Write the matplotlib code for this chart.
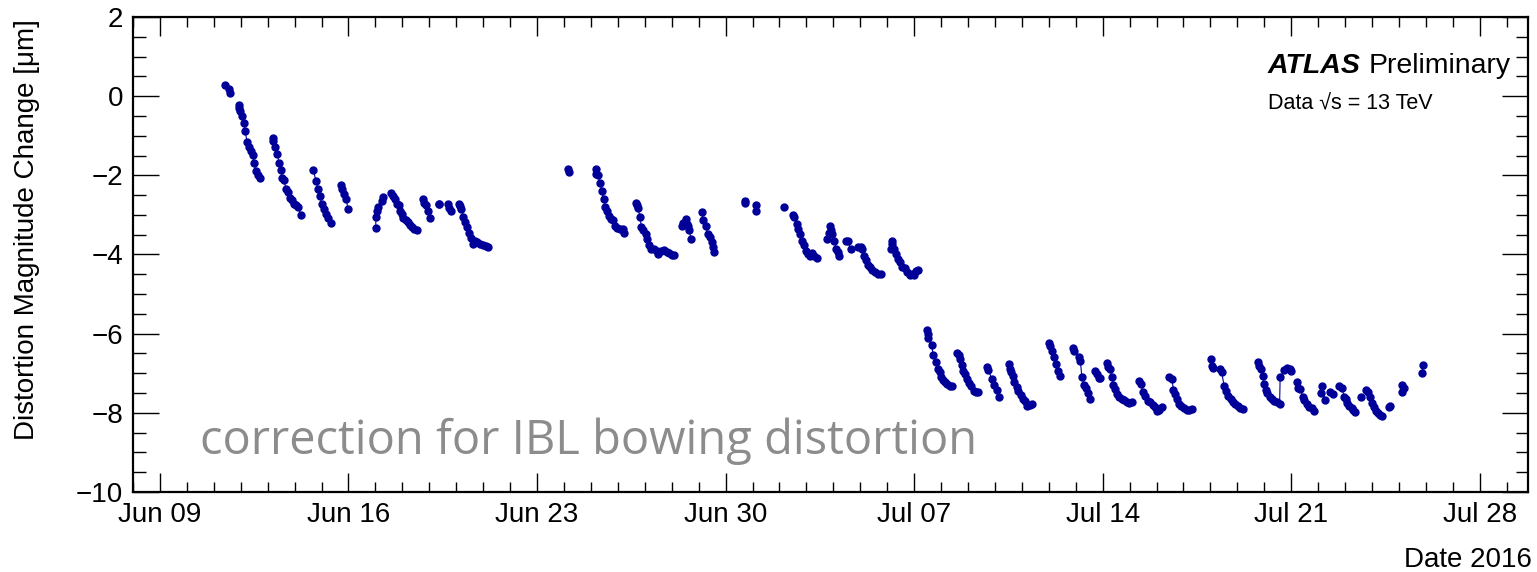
import numpy as np
import matplotlib
matplotlib.use("Agg")
import matplotlib.pyplot as plt
import matplotlib.dates as mdates
from matplotlib.ticker import MultipleLocator

plt.rcParams['font.family'] = ['Liberation Sans', 'DejaVu Sans']

# ---- data: time in days since 2016-06-09 00:00, one list per fill ----
fill_days = [
    [2.41, 2.57, 2.60],
    [2.93, 2.94, 2.97, 3.03, 3.11, 3.17, 3.23, 3.30, 3.37, 3.44, 3.50, 3.57, 3.63, 3.70],
    [4.19, 4.21, 4.27, 4.36, 4.42, 4.48, 4.55, 4.62, 4.67, 4.76, 4.82, 4.89, 4.96, 5.05, 5.13, 5.23],
    [5.70, 5.79, 5.86, 5.94, 6.01, 6.09, 6.16, 6.25, 6.36],
    [6.72, 6.77, 6.84, 6.91, 6.98],
    [8.01, 8.02, 8.05, 8.11, 8.26, 8.30],
    [8.59, 8.66, 8.72, 8.81, 8.87, 8.91, 8.97, 9.03, 9.12, 9.20, 9.28, 9.37, 9.44, 9.53],
    [9.78, 9.80, 9.87, 9.95, 10.03],
    [10.35, 10.37],
    [10.71, 10.73, 10.80],
    [11.11, 11.14, 11.18, 11.27, 11.33, 11.39, 11.48, 11.55, 11.62, 11.70, 11.78, 11.88, 12.00, 12.10, 12.17],
    [15.16, 15.18],
    [16.18, 16.20, 16.27, 16.34, 16.41, 16.48, 16.54, 16.59, 16.66, 16.75, 16.83, 16.90, 16.98, 17.08, 17.21, 17.24],
    [17.68, 17.71, 17.74, 17.83, 17.87, 17.95, 18.04, 18.10, 18.16, 18.24, 18.34, 18.44, 18.50, 18.59, 18.71, 18.81, 18.91, 19.00, 19.08],
    [19.37, 19.43, 19.53, 19.56, 19.61, 19.66, 19.71],
    [20.11, 20.17, 20.26, 20.34, 20.42, 20.49, 20.52, 20.58],
    [21.71, 21.73],
    [22.13, 22.14],
    [23.18],
    [23.49, 23.54, 23.64, 23.70, 23.77, 23.85, 23.91, 23.99, 24.05, 24.14, 24.20, 24.29, 24.39],
    [24.76, 24.85, 24.88, 24.91, 24.97, 25.04, 25.10, 25.17, 25.22],
    [25.49, 25.55, 25.64],
    [25.93, 26.03, 26.08, 26.15, 26.21, 26.28, 26.36, 26.45, 26.55, 26.65, 26.76],
    [27.13, 27.17, 27.19, 27.25, 27.32, 27.39, 27.48, 27.56, 27.67, 27.75, 27.83, 27.92, 28.00, 28.08, 28.14],
    [28.49, 28.51, 28.53, 28.65, 28.71, 28.81, 28.88, 28.96, 29.00, 29.06, 29.15, 29.24, 29.33, 29.40],
    [29.61, 29.66, 29.70, 29.77, 29.83, 29.89, 29.96, 30.04, 30.11, 30.23, 30.30, 30.39],
    [30.72, 30.76, 30.88, 30.97, 31.07, 31.16],
    [31.53, 31.57, 31.59, 31.67, 31.72, 31.81, 31.87, 31.96, 32.03, 32.12, 32.20, 32.30, 32.37],
    [33.02, 33.05, 33.11, 33.20, 33.26, 33.34, 33.42],
    [33.89, 33.94, 34.13, 34.17, 34.23, 34.31, 34.39, 34.47, 34.54],
    [34.72, 34.79, 34.87, 34.91],
    [35.16, 35.21, 35.27, 35.34, 35.40, 35.46, 35.55, 35.61, 35.71, 35.79, 35.89, 35.99, 36.08],
    [36.35, 36.42, 36.49, 36.58, 36.70, 36.76, 36.86, 36.95, 37.03, 37.11, 37.20],
    [37.48, 37.57, 37.63, 37.69, 37.75, 37.84, 37.92, 38.03, 38.13, 38.22, 38.31],
    [39.02, 39.05, 39.11],
    [39.36, 39.42, 39.51, 39.58, 39.67, 39.76, 39.83, 39.92, 40.01, 40.11, 40.21],
    [40.75, 40.79, 40.88, 40.94, 41.00, 41.06, 41.12, 41.20, 41.28, 41.37, 41.47, 41.57, 41.59, 41.75, 41.85, 41.94, 41.98],
    [42.21, 42.24, 42.33, 42.43, 42.49, 42.58, 42.66, 42.76, 42.83],
    [43.11, 43.14, 43.26],
    [43.45, 43.55],
    [43.79, 43.88, 43.97, 44.04, 44.09, 44.16, 44.25, 44.31, 44.38],
    [44.60],
    [44.79, 44.85, 44.94, 45.00, 45.06, 45.15, 45.22, 45.31, 45.37],
    [45.64, 45.65],
    [46.10, 46.12, 46.19],
    [46.87, 46.89],
]

fill_values = [
    [0.27, 0.17, 0.08],
    [-0.23, -0.31, -0.38, -0.50, -0.67, -0.89, -1.15, -1.28, -1.39, -1.49, -1.70, -1.90, -2.00, -2.08],
    [-1.05, -1.14, -1.28, -1.47, -1.69, -1.86, -2.07, -2.13, -2.34, -2.43, -2.57, -2.63, -2.72, -2.76, -2.80, -3.00],
    [-1.86, -2.15, -2.34, -2.52, -2.73, -2.85, -2.98, -3.09, -3.21],
    [-2.25, -2.34, -2.46, -2.59, -2.84],
    [-3.33, -3.06, -2.89, -2.80, -2.65, -2.55],
    [-2.45, -2.52, -2.59, -2.72, -2.76, -2.89, -2.97, -3.08, -3.12, -3.18, -3.25, -3.31, -3.35, -3.37],
    [-2.61, -2.69, -2.76, -2.91, -3.08],
    [-2.73, -2.73],
    [-2.73, -2.83, -2.91],
    [-2.72, -2.77, -2.84, -3.05, -3.18, -3.31, -3.45, -3.58, -3.73, -3.67, -3.69, -3.73, -3.75, -3.79, -3.82],
    [-1.83, -1.91],
    [-1.85, -1.96, -2.00, -2.19, -2.40, -2.61, -2.80, -2.91, -3.04, -3.10, -3.14, -3.27, -3.33, -3.35, -3.35, -3.45],
    [-2.69, -2.76, -2.83, -3.05, -3.31, -3.39, -3.48, -3.62, -3.77, -3.86, -3.87, -3.90, -3.98, -3.90, -3.88, -3.94, -3.96, -4.01, -4.01],
    [-3.27, -3.20, -3.11, -3.22, -3.28, -3.39, -3.62],
    [-2.93, -3.12, -3.28, -3.48, -3.56, -3.69, -3.81, -3.94],
    [-2.64, -2.70],
    [-2.74, -2.89],
    [-2.80],
    [-2.99, -3.05, -3.22, -3.35, -3.48, -3.65, -3.77, -3.90, -3.98, -4.04, -3.96, -4.03, -4.08],
    [-3.60, -3.45, -3.29, -3.39, -3.48, -3.66, -3.86, -3.94, -4.03],
    [-3.67, -3.67, -3.86],
    [-3.81, -3.81, -3.87, -4.03, -4.13, -4.26, -4.32, -4.38, -4.45, -4.49, -4.49],
    [-3.86, -3.65, -3.73, -3.87, -3.98, -4.11, -4.19, -4.32, -4.34, -4.45, -4.53, -4.49, -4.53, -4.41, -4.38],
    [-5.92, -6.01, -6.12, -6.29, -6.54, -6.72, -6.89, -6.96, -7.10, -7.16, -7.23, -7.27, -7.32, -7.33],
    [-6.49, -6.54, -6.64, -6.79, -6.94, -7.02, -7.15, -7.25, -7.33, -7.44, -7.48, -7.47],
    [-6.85, -6.91, -7.15, -7.30, -7.43, -7.59],
    [-6.77, -6.89, -6.96, -7.06, -7.22, -7.36, -7.44, -7.55, -7.64, -7.70, -7.82, -7.81, -7.78],
    [-6.24, -6.32, -6.43, -6.60, -6.77, -6.94, -7.08],
    [-6.37, -6.43, -6.60, -6.68, -7.10, -7.30, -7.38, -7.50, -7.64],
    [-6.94, -7.02, -7.12, -7.13],
    [-6.74, -6.85, -6.89, -7.10, -7.30, -7.40, -7.53, -7.61, -7.65, -7.68, -7.72, -7.74, -7.72],
    [-7.19, -7.27, -7.48, -7.57, -7.70, -7.72, -7.81, -7.86, -7.95, -7.92, -7.86],
    [-7.10, -7.15, -7.42, -7.53, -7.65, -7.78, -7.84, -7.89, -7.92, -7.92, -7.91],
    [-6.64, -6.81, -6.88],
    [-6.89, -6.98, -7.32, -7.44, -7.57, -7.65, -7.72, -7.78, -7.84, -7.89, -7.91],
    [-6.72, -6.81, -6.89, -7.08, -7.27, -7.42, -7.50, -7.59, -7.65, -7.70, -7.72, -7.78, -7.10, -6.91, -6.88, -6.89, -6.94],
    [-7.23, -7.38, -7.40, -7.59, -7.68, -7.78, -7.85, -7.89, -7.95],
    [-7.50, -7.32, -7.67],
    [-7.47, -7.53],
    [-7.32, -7.38, -7.59, -7.64, -7.76, -7.82, -7.88, -7.92, -7.97],
    [-7.61],
    [-7.42, -7.48, -7.61, -7.74, -7.86, -7.95, -8.01, -8.06, -8.09],
    [-7.86, -7.83],
    [-7.48, -7.30, -7.38],
    [-6.99, -6.79],
]

start_date = np.datetime64('2016-06-09T00:00')
x_range = ('2016-06-08T00:00', '2016-07-29T19:00')
y_range = (-10, 2)
ylabel = 'Distortion Magnitude Change [\u03bcm]'
xlabel = 'Date 2016'
overlay = 'correction for IBL bowing distortion'

W, H = 1537, 572
fig = plt.figure(figsize=(W / 100, H / 100), dpi=100)
ax = fig.add_axes([133 / W, 1 - 492 / H, (1528 - 133) / W, (492 - 17) / H])

col = '#000099'
for d, v in zip(fill_days, fill_values):
    t = start_date + (np.array(d) * 24 * 60).astype('timedelta64[m]')
    ax.plot(t, v, '-o', color=col, lw=0.8, ms=5.0, mec=col, mfc=col)

ax.set_xlim(np.datetime64(x_range[0]), np.datetime64(x_range[1]))
ax.set_ylim(*y_range)

major_dates = np.arange(np.datetime64('2016-06-09'), np.datetime64('2016-07-30'), np.timedelta64(7, 'D'))
ax.set_xticks(major_dates)
ax.xaxis.set_minor_locator(mdates.DayLocator())
ax.xaxis.set_major_formatter(mdates.DateFormatter('%b %d'))
ax.yaxis.set_major_locator(MultipleLocator(2))
ax.yaxis.set_minor_locator(MultipleLocator(0.5))

for s in ax.spines.values():
    s.set_linewidth(1.6)
ax.tick_params(axis='both', which='both', direction='in', top=True, right=True,
               labelsize=20, width=1.0)
ax.tick_params(axis='y', which='major', length=19, pad=7)
ax.tick_params(axis='y', which='minor', length=9)
ax.tick_params(axis='x', which='major', length=14, pad=7)
ax.tick_params(axis='x', which='minor', length=7)

fig.text(27 / W, 1 - 19 / H, ylabel, rotation=90, ha='center', va='top', fontsize=20)
fig.text(1532 / W, 1 - 560 / H, xlabel, ha='right', va='center', fontsize=20)

fig.text(1268 / W, 1 - 73 / H, 'ATLAS', fontsize=20.5, fontweight='bold', fontstyle='italic', va='baseline')
fig.text(1369 / W, 1 - 73 / H, 'Preliminary', fontsize=20.5, va='baseline')
fig.text(1268 / W, 1 - 109 / H, 'Data \u221as = 13 TeV', fontsize=15.5, va='baseline')

fig.text(200 / W, 1 - 441 / H, overlay, fontsize=33.8, color='#8c8c8c',
         family=['Open Sans', 'DejaVu Sans'], ha='left', va='center')

fig.savefig('out.png', dpi=100)
